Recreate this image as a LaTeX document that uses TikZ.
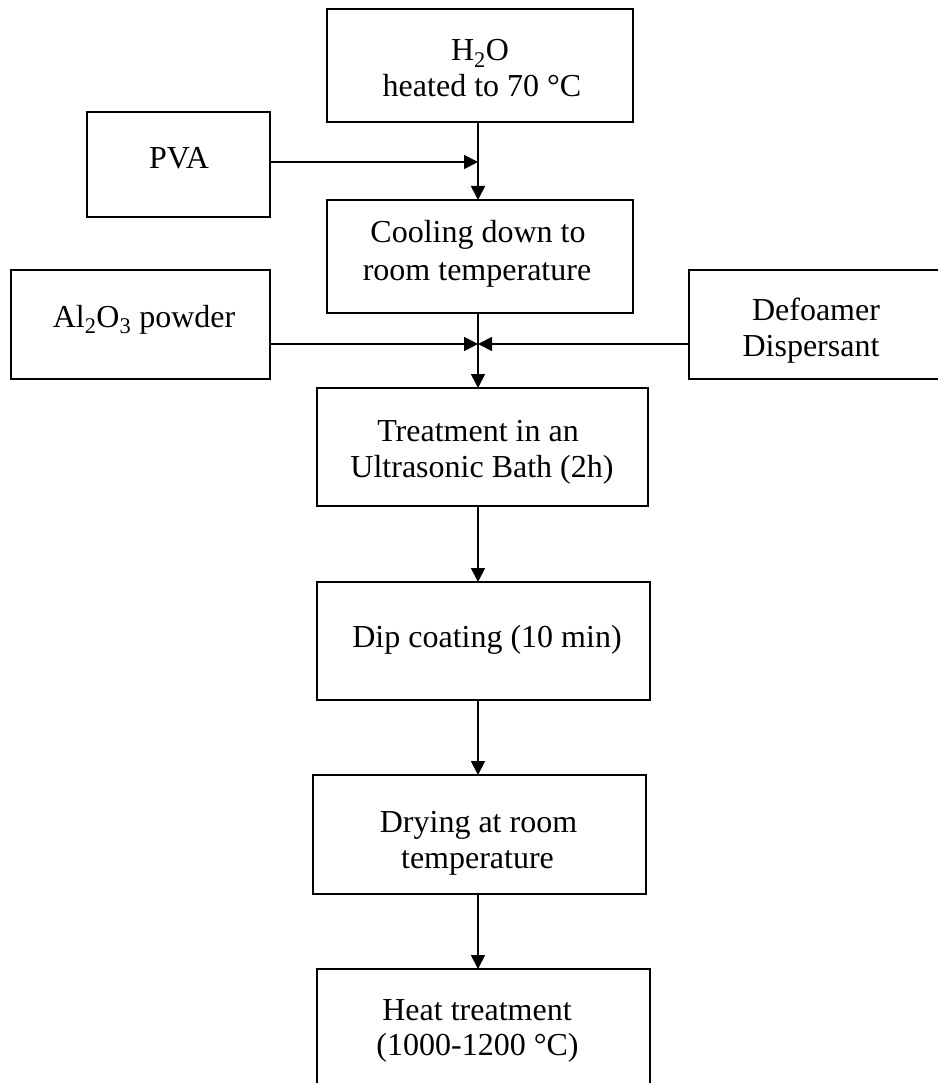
\documentclass[tikz,border=0pt]{standalone}
\usepackage{fontspec}
\setmainfont{Liberation Serif}
\usetikzlibrary{arrows.meta}
\begin{document}
\begin{tikzpicture}[x=1pt,y=-1pt,
  box/.style={draw, line width=2pt, inner sep=0pt, outer sep=0pt},
  txt/.style={font=\fontsize{32}{36}\selectfont, inner sep=0pt, anchor=base},
  arr/.style={line width=1.8pt, -{Triangle[length=14pt,width=14pt]}}]
\useasboundingbox (0,0) rectangle (937,1083);
% boxes
\node[box, minimum width=306pt, minimum height=113pt] (h2o)   at (480,65.5)   {};
\node[box, minimum width=183pt, minimum height=105pt] (pva)   at (178.5,164.5) {};
\node[box, minimum width=306pt, minimum height=113pt] (cool)  at (480,256.5)  {};
\node[box, minimum width=259pt, minimum height=109pt] (al)    at (140.5,324.5) {};
\node[box, minimum width=254pt, minimum height=109pt] (def)   at (816,324.5)  {};
\node[box, minimum width=331pt, minimum height=118pt] (treat) at (482.5,447)  {};
\node[box, minimum width=333pt, minimum height=118pt] (dip)   at (483.5,641)  {};
\node[box, minimum width=333pt, minimum height=119pt] (dry)   at (479.5,834.5) {};
\node[box, minimum width=333pt, minimum height=118pt] (heat)  at (483.5,1028) {};
% texts
\node[txt] (h2oA)   at (480,61)  {H\textsubscript{2}O};
\node[txt] (h2oB)   at (482,97)  {heated to 70 °C};
\node[txt] (pvaA)   at (179,169) {PVA};
\node[txt] (coolA)  at (478,243) {Cooling down to};
\node[txt] (coolB)  at (477,280) {room temperature};
\node[txt] (alA)    at (144,327) {Al\textsubscript{2}O\textsubscript{3} powder};
\node[txt] (defA)   at (816,320) {Defoamer};
\node[txt] (defB)   at (811,356) {Dispersant};
\node[txt] (treatA) at (478,441) {Treatment in an};
\node[txt] (treatB) at (482,477) {Ultrasonic Bath (2h)};
\node[txt] (dipA)   at (487,647) {Dip coating (10 min)};
\node[txt] (dryA)   at (478.5,832) {Drying at room};
\node[txt] (dryB)   at (477.5,868) {temperature};
\node[txt] (heatA)  at (477,1020) {Heat treatment};
\node[txt] (heatB)  at (477.5,1055) {(1000-1200 °C)};
% junctions
\coordinate (jx) at (478,0);
\coordinate (j1) at (478,162);
\coordinate (j2) at (478,344);
% connectors
\draw[arr] (h2o.south -| jx) -- (cool.north -| jx);
\draw[arr] (pva.east |- j1) -- (j1);
\draw[arr] (cool.south -| jx) -- (treat.north -| jx);
\draw[arr] (al.east |- j2) -- (j2);
\draw[arr] (def.west |- j2) -- (j2);
\draw[arr] (treat.south -| jx) -- (dip.north -| jx);
\draw[arr] (dip.south -| jx) -- (dry.north -| jx);
\draw[arr] (dry.south -| jx) -- (heat.north -| jx);
\end{tikzpicture}
\end{document}
